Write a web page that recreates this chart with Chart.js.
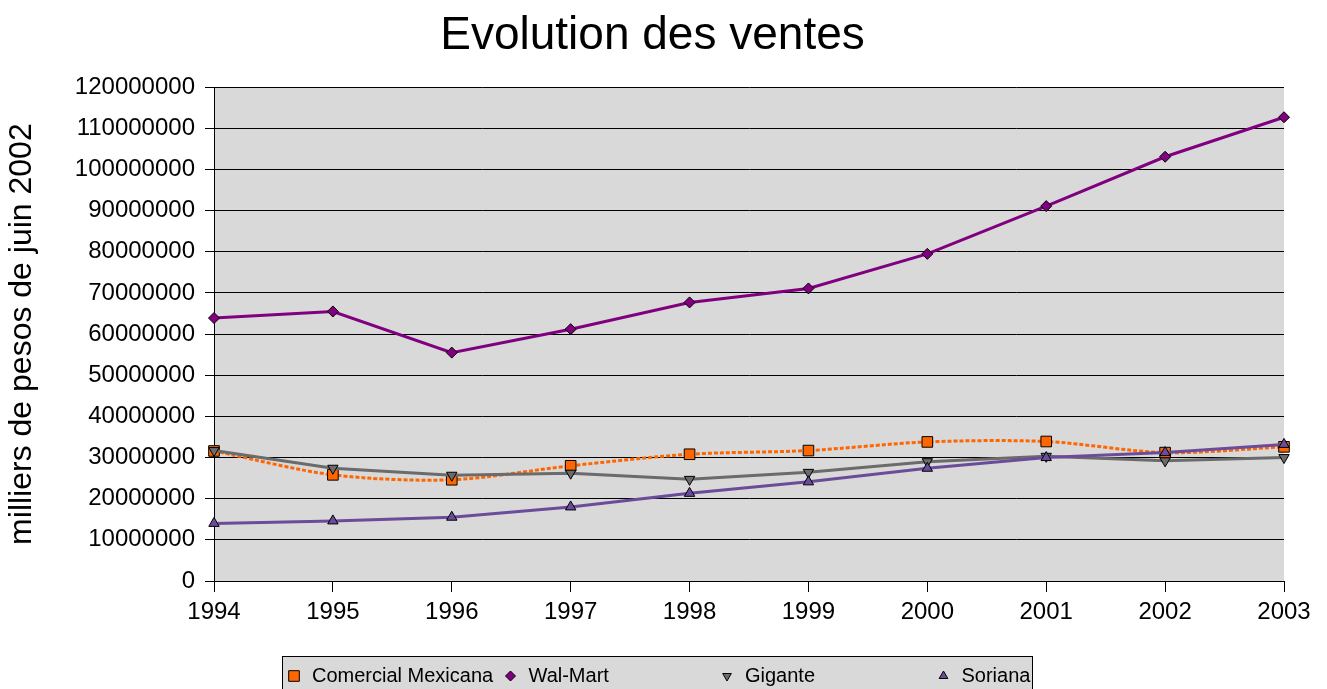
<!DOCTYPE html>
<html>
<head>
<meta charset="utf-8">
<script src="https://cdn.jsdelivr.net/npm/chart.js@4"></script>
<style>
  html, body { margin: 0; padding: 0; background: #fff; }
  #wrap { width: 1327px; height: 689px; }
</style>
</head>
<body>
<div id="wrap"><canvas id="myChart" width="1327" height="689"></canvas></div>
<script>
var years = ['1994', '1995', '1996', '1997', '1998', '1999', '2000', '2001', '2002', '2003'];
var comercialMexicana = [31600000, 25800000, 24600000, 28000000, 30800000, 31700000, 33800000, 33900000, 31200000, 32600000];
var walMart = [63900000, 65500000, 55500000, 61200000, 67700000, 71100000, 79500000, 91100000, 103100000, 112700000];
var gigante = [31700000, 27400000, 25700000, 26200000, 24700000, 26400000, 29000000, 30300000, 29200000, 30000000];
var soriana = [14000000, 14600000, 15500000, 18000000, 21300000, 24100000, 27400000, 30000000, 31200000, 33200000];

Chart.defaults.font.family = '"Liberation Sans", Arial, sans-serif';
Chart.defaults.color = '#000';

// gray plot area
var plotBg = {
    id: 'plotBg',
    beforeDraw: function (chart) {
        var a = chart.chartArea, c = chart.ctx;
        c.save();
        c.fillStyle = '#D9D9D9';
        c.fillRect(a.left, a.top, a.right - a.left, a.bottom - a.top);
        c.restore();
    }
};

// excel style legend: boxed, equal columns
var boxLegend = {
    id: 'boxLegend',
    afterDraw: function (chart) {
        var c = chart.ctx;
        var left = 282, top = 656, w = 750, colW = 216.5, midY = 676;
        c.save();
        c.fillStyle = '#D9D9D9';
        c.fillRect(left, top, w, 40);
        c.strokeStyle = '#000';
        c.lineWidth = 1;
        c.strokeRect(left + 0.5, top + 0.5, w, 40);
        chart.data.datasets.forEach(function (ds, i) {
            var x = left + 7 + i * colW;
            c.fillStyle = ds.pointBackgroundColor;
            c.strokeStyle = '#000';
            c.lineWidth = 1;
            Chart.helpers.drawPoint(c, {
                pointStyle: ds.pointStyle,
                rotation: ds.pointRotation || 0,
                radius: ds.pointStyle === 'rect' ? 7.5 : 5,
                borderWidth: 1
            }, x + 5, midY);
            c.fillStyle = '#000';
            c.font = '20px "Liberation Sans", Arial, sans-serif';
            c.textBaseline = 'middle';
            c.textAlign = 'left';
            c.fillText(ds.label, x + 23, midY);
        });
        c.restore();
    }
};

var ctx = document.getElementById('myChart').getContext('2d');
var myChart = new Chart(ctx, {
    type: 'line',
    data: {
        labels: years,
        datasets: [{
            label: 'Comercial Mexicana',
            data: comercialMexicana,
            borderColor: '#FF6600',
            borderWidth: 3,
            borderDash: [4, 2],
            tension: 0.3,
            pointStyle: 'rect',
            pointRadius: 7.5,
            pointBackgroundColor: '#FF6600',
            pointBorderColor: '#000',
            pointBorderWidth: 1,
            order: 3
        }, {
            label: 'Wal-Mart',
            data: walMart,
            borderColor: '#800080',
            borderWidth: 3,
            tension: 0,
            pointStyle: 'rectRot',
            pointRadius: 5.5,
            pointBackgroundColor: '#800080',
            pointBorderColor: '#000',
            pointBorderWidth: 1,
            order: 2
        }, {
            label: 'Gigante',
            data: gigante,
            borderColor: '#6B6B6B',
            borderWidth: 3,
            tension: 0,
            pointStyle: 'triangle',
            pointRotation: 180,
            pointRadius: 6,
            pointBackgroundColor: '#6B6B6B',
            pointBorderColor: '#000',
            pointBorderWidth: 1,
            order: 1
        }, {
            label: 'Soriana',
            data: soriana,
            borderColor: '#6B4C9A',
            borderWidth: 3,
            tension: 0,
            pointStyle: 'triangle',
            pointRadius: 6,
            pointBackgroundColor: '#6B4C9A',
            pointBorderColor: '#000',
            pointBorderWidth: 1,
            order: 0
        }]
    },
    options: {
        responsive: false,
        animation: false,
        layout: { padding: { top: 0, right: 43, bottom: 33, left: 21 } },
        plugins: {
            legend: { display: false },
            tooltip: { enabled: false },
            title: {
                display: true,
                text: 'Evolution des ventes',
                font: { size: 46, weight: 'normal' },
                color: '#000',
                padding: { top: 9, bottom: 23 }
            }
        },
        scales: {
            x: {
                offset: false,
                grid: { drawOnChartArea: false, drawTicks: true, tickLength: 11, color: '#000' },
                border: { color: '#000', width: 1 },
                ticks: { font: { size: 24 }, padding: 6, maxRotation: 0 },
                afterFit: function (s) { s.height = 75; }
            },
            y: {
                min: 0,
                max: 120000000,
                grid: { color: '#000', lineWidth: 1, tickLength: 9 },
                border: { color: '#000', width: 1 },
                ticks: {
                    stepSize: 10000000,
                    font: { size: 24 },
                    padding: 10,
                    callback: function (v) { return String(v); }
                },
                title: {
                    display: true,
                    text: 'milliers de pesos de juin 2002',
                    font: { size: 32 },
                    color: '#000',
                    padding: { top: -18, bottom: 0 }
                },
                afterFit: function (s) { s.width = 193; }
            }
        }
    },
    plugins: [plotBg, boxLegend]
});
</script>
</body>
</html>
